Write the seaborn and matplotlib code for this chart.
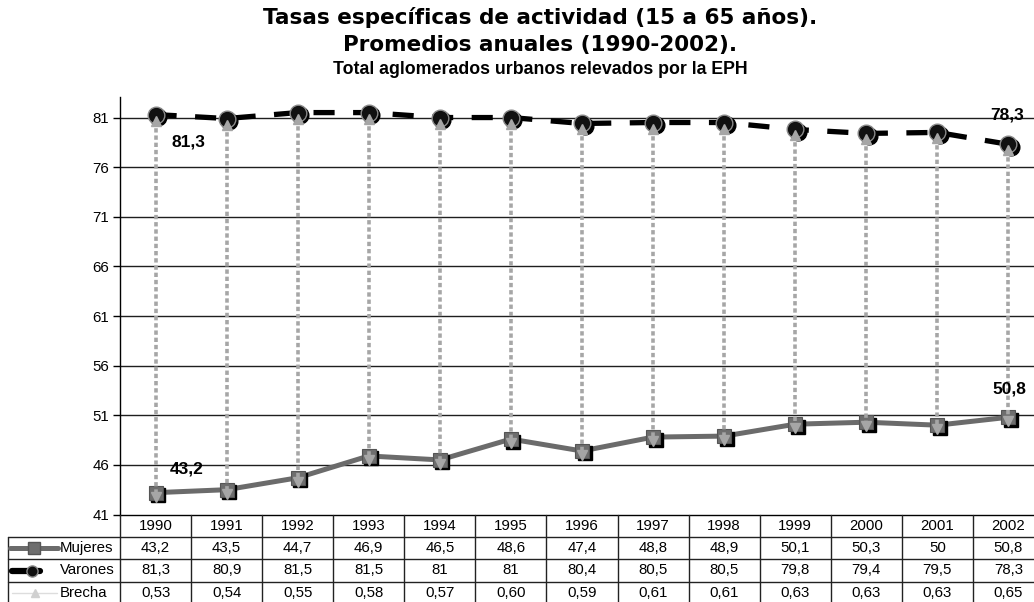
import matplotlib
matplotlib.use("Agg")
import numpy as np
import pandas as pd
import seaborn as sns
import matplotlib.pyplot as plt
from matplotlib.transforms import offset_copy

# ---- data ----
years = ["1990", "1991", "1992", "1993", "1994", "1995", "1996",
         "1997", "1998", "1999", "2000", "2001", "2002"]
mujeres = [43.2, 43.5, 44.7, 46.9, 46.5, 48.6, 47.4, 48.8, 48.9, 50.1, 50.3, 50.0, 50.8]
varones = [81.3, 80.9, 81.5, 81.5, 81.0, 81.0, 80.4, 80.5, 80.5, 79.8, 79.4, 79.5, 78.3]
brecha = [0.53, 0.54, 0.55, 0.58, 0.57, 0.60, 0.59, 0.61, 0.61, 0.63, 0.63, 0.63, 0.65]
y_ticks = [41, 46, 51, 56, 61, 66, 71, 76, 81]

df = pd.DataFrame({"idx": np.arange(len(years)), "year": years,
                   "Mujeres": mujeres, "Varones": varones, "Brecha": brecha})

sns.set_theme(style="white")
plt.rcParams["font.family"] = ["Liberation Sans", "DejaVu Sans"]
for key in ("text.color", "axes.labelcolor", "xtick.color", "ytick.color"):
    plt.rcParams[key] = "black"

W, H = 1034, 602
fig = plt.figure(figsize=(W / 100, H / 100), dpi=100)

# plot area (pixel geometry converted to figure fractions)
left_px, right_px, bottom_px, top_px = 120, 1044, 514.5, 96.7
ax = fig.add_axes([left_px / W, (H - bottom_px) / H,
                   (right_px - left_px) / W, (bottom_px - top_px) / H])
ax.set_xlim(-0.5, len(years) - 0.5)
ax.set_ylim(41, 83.1)
col_w = (right_px - left_px) / len(years)

# horizontal grid
for v in y_ticks[1:]:
    ax.axhline(v, color="#1e1e1e", lw=1.0, zorder=1)

shadow = offset_copy(ax.transData, fig=fig, x=2.5, y=-2.5, units="dots")
arrow_up = offset_copy(ax.transData, fig=fig, x=0, y=-6, units="dots")
arrow_dn = offset_copy(ax.transData, fig=fig, x=0, y=-4, units="dots")

# Mujeres
sns.lineplot(data=df, x="idx", y="Mujeres", ax=ax, color="#6b6b6b", lw=3.6,
             zorder=3, legend=False)
ax.plot(df["idx"], df["Mujeres"], ls="none", marker="s", ms=9.5,
        color="black", transform=shadow, zorder=4)
ax.plot(df["idx"], df["Mujeres"], ls="none", marker="s", ms=9.5,
        mfc="#6e6e6e", mec="#555555", mew=0.8, zorder=5)

# Varones
sns.lineplot(data=df, x="idx", y="Varones", ax=ax, color="black", lw=3.8,
             dashes=False, zorder=3, legend=False)
ax.lines[-1].set_dashes([4, 3.5])
ax.plot(df["idx"], df["Varones"], ls="none", marker="o", ms=12,
        color="black", transform=shadow, zorder=4)
ax.plot(df["idx"], df["Varones"], ls="none", marker="o", ms=12,
        mfc="#111111", mec="#8a8a8a", mew=1.0, zorder=5)

# gap connectors between the two series
for x, hi, lo in zip(df["idx"], df["Varones"], df["Mujeres"]):
    ax.plot([x, x], [hi, lo], color="#a6a6a6", lw=2.6, dashes=[1.2, 0.8],
            zorder=6, transform=arrow_up,
            solid_capstyle="butt", dash_capstyle="butt")
ax.plot(df["idx"], df["Varones"], ls="none", marker="^", ms=7,
        color="#a6a6a6", zorder=7, transform=arrow_up)
ax.plot(df["idx"], df["Mujeres"], ls="none", marker="v", ms=7,
        color="#a6a6a6", zorder=7, transform=arrow_dn)

# value labels at both ends
lab = dict(fontsize=12.5, fontweight="bold", color="black",
           textcoords="offset pixels", ha="center", va="center", zorder=8)
fmt = lambda v: f"{v:g}".replace(".", ",")
ax.annotate(fmt(varones[0]), (0, varones[0]), xytext=(33, -27), **lab)
ax.annotate(fmt(mujeres[0]), (0, mujeres[0]), xytext=(31, 24), **lab)
ax.annotate(fmt(varones[-1]), (12, varones[-1]), xytext=(-1, 29), **lab)
ax.annotate(fmt(mujeres[-1]), (12, mujeres[-1]), xytext=(1, 28), **lab)

# axes styling
ax.set_xticks([])
ax.set_yticks(y_ticks)
ax.set_yticklabels([str(t) for t in y_ticks], fontsize=10.8)
ax.tick_params(axis="y", direction="out", length=5, width=1, color="black",
               pad=3, left=True)
ax.set_xlabel("")
ax.set_ylabel("")
for s in ("top", "right"):
    ax.spines[s].set_visible(False)
for s in ("left", "bottom"):
    ax.spines[s].set_color("black")
    ax.spines[s].set_linewidth(1.0)

# ---- data table under the plot ----
row_h = 22.4
tab_left_px = 8
tab = fig.add_axes([tab_left_px / W, (H - bottom_px - 4 * row_h) / H,
                    (right_px - tab_left_px) / W, 4 * row_h / H])
x0 = -0.5 - (left_px - tab_left_px) / col_w
tab.set_xlim(x0, len(years) - 0.5)
tab.set_ylim(4, 0)
tab.axis("off")
line_c = "#222222"
for k in range(len(years) + 1):
    tab.plot([-0.5 + k, -0.5 + k], [0, 4], color=line_c, lw=1, clip_on=False)
tab.plot([x0, x0], [1, 4], color=line_c, lw=1, clip_on=False)
for r in (1, 2, 3):
    tab.plot([x0, len(years) - 0.5], [r, r], color=line_c, lw=1, clip_on=False)

cell = dict(ha="center", va="center", fontsize=10.8, color="black")
for i, yr in enumerate(years):
    tab.text(i, 0.5, yr, **cell)
    tab.text(i, 1.5, fmt(mujeres[i]), **cell)
    tab.text(i, 2.5, fmt(varones[i]), **cell)
    tab.text(i, 3.5, f"{brecha[i]:.2f}".replace(".", ","), **cell)

px2x = lambda p: x0 + (p - tab_left_px) / col_w
# legend keys
tab.plot([px2x(10), px2x(58)], [1.5, 1.5], color="#6b6b6b", lw=3.6)
tab.plot([px2x(34)], [1.5], marker="s", ms=8, mfc="#6e6e6e", mec="#555555")
tab.plot([px2x(12), px2x(40)], [2.5, 2.5], color="black", lw=4.5)
tab.plot([px2x(32)], [2.5], marker="o", ms=8, mfc="#111111", mec="#888888")
tab.plot([px2x(12), px2x(57)], [3.5, 3.5], color="#dddddd", lw=1)
tab.plot([px2x(35)], [3.5], marker="^", ms=6, color="#d0d0d0")
for r, name in zip((1.5, 2.5, 3.5), ("Mujeres", "Varones", "Brecha")):
    tab.text(px2x(60), r, name, ha="left", va="center", fontsize=10.8,
             color="black")

# ---- titles ----
cx = 540 / W
fig.text(cx, 1 - 18 / H, "Tasas específicas de actividad (15 a 65 años).",
         ha="center", va="center", fontsize=15.5, fontweight="bold",
         family=["DejaVu Sans"])
fig.text(cx, 1 - 45 / H, "Promedios anuales (1990-2002).",
         ha="center", va="center", fontsize=15.5, fontweight="bold",
         family=["DejaVu Sans"])
fig.text(cx, 1 - 70 / H, "Total aglomerados urbanos relevados por la EPH",
         ha="center", va="center", fontsize=12.8, fontweight="bold")

fig.savefig("out.png", dpi=100)
